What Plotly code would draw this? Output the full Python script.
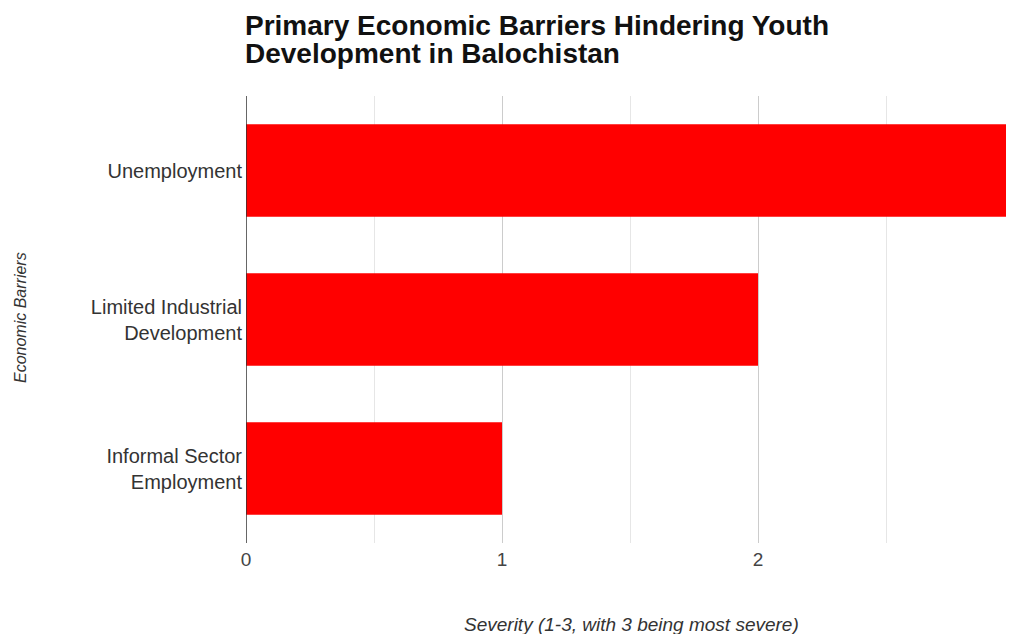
import plotly.graph_objects as go

categories = ["Unemployment", "Limited Industrial<br>Development", "Informal Sector<br>Employment"]
severity = [3, 2, 1]
x_ticks = [0, 1, 2, 3]
title_lines = ["Primary Economic Barriers Hindering Youth", "Development in Balochistan"]

FONT = "Arial, 'Liberation Sans', sans-serif"

W, H = 1006, 626
L, R, T, B = 238, 0, 88, 91
PW, PH = W - L - R, H - T - B


def py(fig_y):
    """figure pixel y (from top) -> paper y"""
    return (H - B - fig_y) / PH


def px(fig_x):
    return (fig_x - L) / PW


fig = go.Figure()
fig.add_trace(go.Bar(
    y=categories, x=severity, orientation="h",
    marker=dict(color="#ff0000", line=dict(width=0)),
    width=0.62,
))

fig.update_layout(
    width=W, height=H,
    margin=dict(l=L, r=R, t=T, b=B, autoexpand=False),
    paper_bgcolor="white", plot_bgcolor="white",
    showlegend=False,
    font=dict(family=FONT, color="#444"),
)

fig.update_xaxes(
    range=[0, 3], tickvals=x_ticks, ticktext=[str(v) for v in x_ticks],
    showgrid=True, gridcolor="#cccccc", gridwidth=1,
    minor=dict(dtick=0.5, showgrid=True, gridcolor="#e6e6e6", gridwidth=1),
    zeroline=False, showline=False, automargin=False,
    tickfont=dict(size=19, color="#444"),
    ticks="", ticklabelstandoff=3, ticklabeloverflow="allow",
)

fig.update_yaxes(
    categoryorder="array", categoryarray=categories[::-1],
    showgrid=False, zeroline=False, automargin=False,
    showline=False,
    tickfont=dict(size=20, color="#333"),
    ticks="", ticklabelstandoff=3,
)

# title (two lines, positioned individually)
for line, cy in zip(title_lines, [17, 45]):
    fig.add_annotation(
        text="<b>" + line + "</b>",
        xref="paper", yref="paper", x=0, y=py(cy), xshift=-2,
        xanchor="left", yanchor="middle", align="left", showarrow=False,
        borderpad=0,
        font=dict(family=FONT, size=28, color="#111"),
    )

# axis titles
fig.add_annotation(
    text="<i>Severity (1-3, with 3 being most severe)</i>",
    xref="paper", yref="paper", x=px(631 - 8), y=py(616),
    xanchor="center", yanchor="middle", showarrow=False,
    font=dict(family=FONT, size=19, color="#333"),
)
fig.add_annotation(
    text="<i>Economic Barriers</i>",
    xref="paper", yref="paper", x=px(12), y=py(310),
    xanchor="center", yanchor="middle", showarrow=False, textangle=-90,
    font=dict(family=FONT, size=16, color="#333"),
)

# vertical baseline at x=0
fig.add_shape(type="line", xref="x", yref="paper", x0=0, x1=0, y0=0, y1=1,
              line=dict(color="#333", width=1.5))

fig.write_html("out.html")
